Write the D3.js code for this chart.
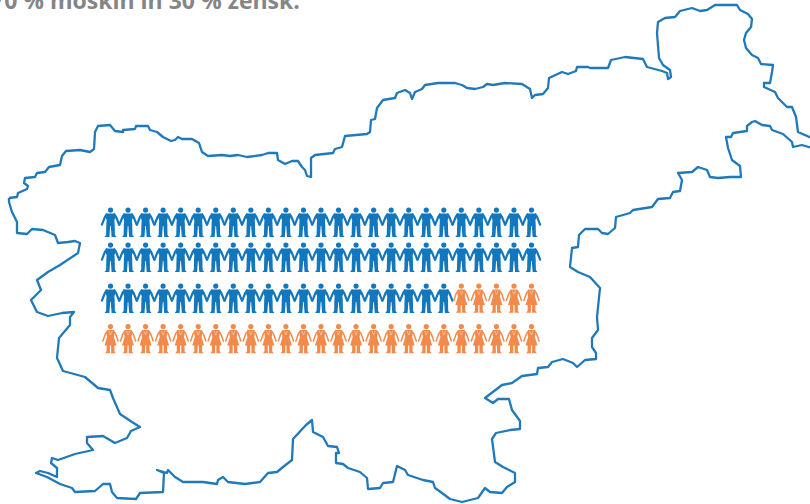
<!DOCTYPE html>
<html lang="sl">
  <head>
    <meta charset="utf-8">
    <title>70 % moških in 30 % žensk</title>
    <script src="https://d3js.org/d3.v7.min.js"></script>
    <style>
      body { margin: 0; background: #fff; }
      svg { display: block; }
    </style>
  </head>
  <body>
    <div id="my_dataviz"></div>
    <script>
      // the values
      var titleText = "70 % moških in 30 % žensk.";
      var genders = ["moski", "zenska"];
      var genderCounts = [70, 30];
      var perRow = 25;

      // outline of the country
      var borderMain = [[9,198],[17,197],[18,193],[27,189],[28,186],[24,183],[25,178],[35,177],[37,173],[45,172],[49,167],[60,165],[62,156],[66,151],[80,150],[90,152],[94,149],[95,132],[98,126],[110,125],[115,131],[123,132],[123,130],[135,129],[136,126],[148,126],[150,130],[157,132],[163,137],[171,141],[175,140],[178,137],[182,139],[192,139],[199,143],[202,152],[208,156],[222,155],[230,156],[238,155],[247,157],[262,155],[268,153],[277,153],[278,160],[285,164],[292,161],[298,161],[302,167],[305,170],[307,176],[311,177],[311,158],[315,155],[333,153],[335,149],[342,147],[345,136],[367,134],[370,132],[371,120],[375,119],[377,108],[383,100],[395,98],[397,93],[405,90],[410,93],[412,99],[415,92],[422,89],[425,85],[438,83],[455,83],[462,85],[467,88],[475,89],[483,87],[487,84],[493,85],[505,83],[522,84],[530,89],[532,98],[535,95],[543,94],[548,88],[549,78],[562,72],[568,74],[576,71],[577,67],[588,67],[590,68],[608,68],[611,60],[625,57],[643,59],[647,67],[662,71],[667,73],[668,79],[671,77],[670,70],[663,65],[659,58],[657,33],[658,22],[665,18],[675,17],[680,11],[692,8],[700,11],[707,10],[715,5],[737,5],[740,10],[748,14],[752,19],[751,27],[746,33],[744,40],[746,48],[752,55],[758,58],[761,64],[773,65],[772,72],[770,83],[764,83],[764,87],[775,92],[778,98],[787,107],[792,107],[796,117],[798,132],[812,138]];
      var borderRest = [[812,148],[802,145],[793,147],[792,142],[783,134],[772,130],[770,126],[762,125],[755,121],[752,122],[747,126],[747,131],[733,133],[731,137],[726,137],[728,148],[732,160],[740,166],[741,177],[730,177],[718,178],[710,177],[707,170],[698,167],[692,172],[678,173],[682,180],[680,191],[673,192],[670,198],[658,199],[652,207],[633,210],[630,213],[616,217],[615,228],[608,234],[602,233],[598,229],[585,229],[579,235],[578,247],[572,248],[570,267],[578,272],[590,277],[600,288],[597,317],[598,330],[592,338],[592,347],[596,353],[596,359],[585,360],[577,367],[573,363],[563,359],[552,362],[548,367],[538,368],[537,374],[522,376],[512,383],[502,385],[485,398],[493,403],[498,399],[509,399],[512,410],[520,421],[520,429],[510,430],[496,433],[492,439],[495,462],[503,467],[515,473],[515,482],[507,487],[502,493],[490,492],[485,488],[478,498],[462,502],[450,499],[442,493],[435,488],[433,482],[423,480],[408,475],[405,470],[397,466],[393,482],[383,483],[380,488],[368,489],[367,478],[360,472],[348,468],[343,464],[336,463],[336,453],[339,453],[337,447],[328,446],[323,437],[313,432],[312,420],[306,425],[293,439],[292,460],[283,467],[277,472],[268,473],[260,482],[245,484],[228,482],[223,477],[218,480],[217,484],[203,482],[183,482],[175,477],[168,470],[167,473],[157,470],[164,473],[163,492],[140,493],[136,499],[117,498],[112,492],[110,484],[103,484],[95,491],[75,492],[72,488],[60,484],[47,477],[36,473],[40,471],[48,473],[57,477],[57,468],[51,463],[52,458],[58,460],[75,454],[93,450],[87,443],[87,437],[103,436],[115,443],[127,438],[131,431],[140,427],[132,422],[120,414],[113,398],[110,390],[98,388],[85,377],[63,371],[57,358],[59,338],[70,325],[70,317],[74,312],[62,313],[48,316],[37,312],[31,300],[41,290],[37,280],[48,272],[60,265],[78,253],[80,243],[75,241],[68,242],[58,243],[55,235],[43,230],[32,229],[27,234],[17,233],[17,222],[12,212],[9,202],[9,198]];

      var width = 810, height = 504;

      var svg = d3.select("#my_dataviz")
        .append("svg")
          .attr("width", width)
          .attr("height", height);

      // border runs in picture units
      var mapX = d3.scaleLinear().domain([0, 810]).range([0, width]);
      var mapY = d3.scaleLinear().domain([0, 504]).range([0, height]);
      var border = d3.line()
        .x(function(d) { return mapX(d[0]); })
        .y(function(d) { return mapY(d[1]); });

      svg.selectAll("path.border")
        .data([borderMain, borderRest])
        .enter()
        .append("path")
          .attr("class", "border")
          .attr("d", border)
          .attr("fill", "none")
          .attr("stroke", "#2079b9")
          .attr("stroke-width", 2.3)
          .attr("stroke-linejoin", "round");

      // title, cut off by the top of the picture in the original
      svg.append("text")
        .attr("x", -9)
        .attr("y", 9)
        .text(titleText)
        .style("fill", "#858585")
        .style("font", "700 23px 'Open Sans'");

      // one entry per person, men first
      var people = [];
      genders.forEach(function(g, i) {
        d3.range(genderCounts[i]).forEach(function() { people.push(g); });
      });

      var x = d3.scalePoint()
        .domain(d3.range(perRow))
        .range([110.5, 531.5]);
      var y = d3.scaleOrdinal()
        .domain(d3.range(4))
        .range([207.5, 242.5, 283.5, 324]);
      var colours = d3.scaleOrdinal()
        .domain(genders)
        .range(["#1277bd", "#f28a4c"]);

      var person = svg.selectAll("g.person")
        .data(people)
        .enter()
        .append("g")
          .attr("class", "person")
          .attr("transform", function(d, i) {
            return "translate(" + x(i % perRow) + "," + y(Math.floor(i / perRow)) + ")";
          })
          .attr("fill", function(d) { return colours(d); })
          .attr("stroke", function(d) { return colours(d); });

      // heads
      person.append("circle")
        .attr("cx", 0)
        .attr("cy", 2.6)
        .attr("r", 2.6)
        .attr("stroke", "none");

      // bodies
      person.append("path")
        .attr("stroke", "none")
        .attr("d", function(d) {
          return d == "moski"
            ? "M-4.6,6L4.6,6L5,10L3.9,12.5L4.2,17L4.4,27.5L6,29.5L1.1,29.5L0.3,18.5L-0.3,18.5L-1.1,29.5L-6,29.5L-4.4,27.5L-4.2,17L-3.9,12.5L-5,10Z"
            : "M-3.4,6L3.4,6L4,10L3.4,13L6,21.5L3.9,21.5L3.9,27.2L5.4,29.3L0.6,29.3L0.6,21.5L-0.6,21.5L-0.6,29.3L-5.4,29.3L-3.9,27.2L-3.9,21.5L-6,21.5L-3.4,13L-4,10Z";
        });

      // arms
      person.append("path")
        .attr("fill", "none")
        .attr("stroke-linecap", "round")
        .attr("stroke-width", function(d) { return d == "moski" ? 2.2 : 1.5; })
        .attr("d", function(d) {
          return d == "moski"
            ? "M-4,7L-5.6,9.5L-8.6,17.2M4,7L5.6,9.5L8.6,17.2"
            : "M-3,7L-5,9.5L-7.6,17M3,7L5,9.5L7.6,17";
        });

      // collar on the women
      person.filter(function(d) { return d == "zenska"; })
        .append("path")
          .attr("fill", "none")
          .attr("stroke", "#fbd9c3")
          .attr("stroke-width", 0.6)
          .attr("d", "M-1.6,7L0,11L1.6,7");
    </script>
  </body>
</html>
